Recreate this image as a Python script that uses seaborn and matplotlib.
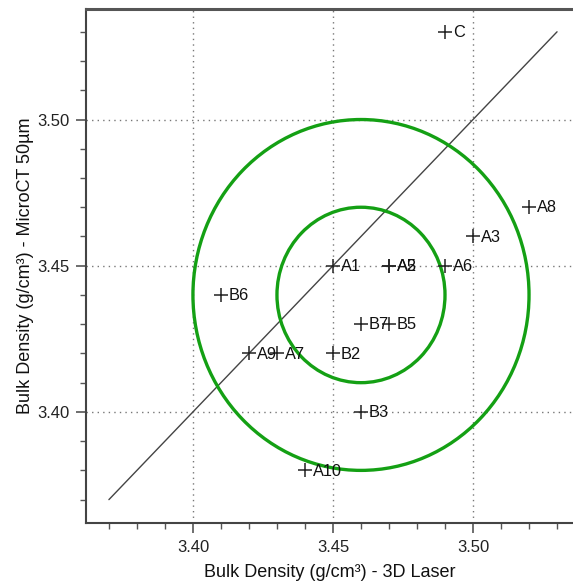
import numpy as np
import pandas as pd
import matplotlib
matplotlib.use("Agg")
import matplotlib.pyplot as plt
from matplotlib.patches import Circle
from matplotlib.ticker import MultipleLocator
import seaborn as sns

sns.set_theme(style="white")
plt.rcParams['font.family'] = ['Liberation Sans', 'DejaVu Sans']

# sample names and densities (g/cm3)
names = ["C", "A8", "A3", "A1", "A2", "A5", "A6", "B6", "B7", "B5",
         "A9", "A7", "B2", "B3", "A10"]
laser = [3.49, 3.52, 3.50, 3.45, 3.47, 3.47, 3.49, 3.41, 3.46, 3.47,
         3.42, 3.43, 3.45, 3.46, 3.44]
microct = [3.53, 3.47, 3.46, 3.45, 3.45, 3.45, 3.45, 3.44, 3.43, 3.43,
           3.42, 3.42, 3.42, 3.40, 3.38]

# identity line and tolerance circles
identity = [3.37, 3.53]
center = (3.46, 3.44)
radii = [0.03, 0.06]

df = pd.DataFrame({"name": names, "laser": laser, "microct": microct})

fig = plt.figure(figsize=(5.73, 5.81), dpi=100)
ax = fig.add_axes([0.150, 0.0998, 0.850, 0.8847])

ax.plot(identity, identity, color="#444444", lw=1.0, zorder=2)

for r in radii:
    ax.add_patch(Circle(center, r, fill=False, edgecolor="#14a014", lw=2.4, zorder=3))

sns.scatterplot(data=df, x="laser", y="microct", marker="+", s=100,
                color="#222222", linewidth=1.1, ax=ax, zorder=4)

for n, x, y in zip(names, laser, microct):
    ax.annotate(n, (x, y), xytext=(5.5, -0.5), textcoords="offset points",
                va="center", ha="left", fontsize=11.8, color="#111111", zorder=5)

ax.set_xlim(3.3618, 3.5357)
ax.set_ylim(3.362, 3.5378)
ax.set_xticks([3.40, 3.45, 3.50])
ax.set_yticks([3.40, 3.45, 3.50])
ax.set_xticklabels(["3.40", "3.45", "3.50"])
ax.set_yticklabels(["3.40", "3.45", "3.50"])
ax.xaxis.set_minor_locator(MultipleLocator(0.01))
ax.yaxis.set_minor_locator(MultipleLocator(0.01))
ax.tick_params(which="major", direction="out", length=7, width=1.2, color="#555555",
               labelsize=12, labelcolor="#222222", bottom=True, left=True, pad=5)
ax.tick_params(which="minor", direction="out", length=4, width=1.0, color="#555555",
               bottom=True, left=True)
ax.grid(True, which="major", linestyle=(0, (1, 3)), color="#777777", lw=1.0)

for s in ["left", "bottom"]:
    ax.spines[s].set_color("#444444")
    ax.spines[s].set_linewidth(1.5)
ax.spines["top"].set_color("#555555")
ax.spines["top"].set_linewidth(2.2)
ax.spines["right"].set_visible(False)

ax.set_xlabel("Bulk Density (g/cm³) - 3D Laser", fontsize=13, color="#111111", labelpad=7)
ax.set_ylabel("Bulk Density (g/cm³) - MicroCT 50µm", fontsize=13, color="#111111", labelpad=2)

fig.savefig("out.png", dpi=100)
